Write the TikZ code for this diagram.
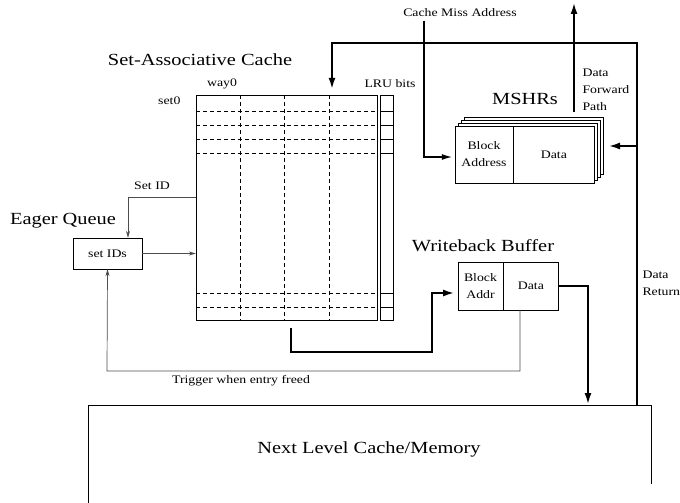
\documentclass[tikz,border=0pt]{standalone}
\usepackage{fontspec}
\setmainfont{Liberation Serif}[FakeStretch=1.2]
\usetikzlibrary{arrows.meta,positioning,calc}
\tikzset{
  cellbox/.style={draw,fill=white,inner sep=0pt,align=center,
    font=\fontsize{11.5}{17}\selectfont},
  titlelabel/.style={font=\fontsize{17}{19}\selectfont},
  smalllabel/.style={font=\fontsize{11.5}{17}\selectfont},
  thickarrow/.style={-{Latex[length=12pt,width=7pt]},line width=2.4pt},
  missarrow/.style={-{Latex[length=11pt,width=6pt]},line width=1.8pt},
  thinarrow/.style={-{Stealth[length=7pt,width=4pt]},black!70,line width=0.7pt},
  gridline/.style={dash pattern=on 4pt off 3pt,line width=0.6pt}
}
\begin{document}
\begin{tikzpicture}[x=1pt,y=-1pt]
  \useasboundingbox (0,0) rectangle (680,503);
  % cache array with LRU bits
  \node[draw,minimum width=181pt,minimum height=225pt,inner sep=0pt] (cache) at (286.5,207.5) {};
  \node[draw,minimum width=13pt,minimum height=225pt,inner sep=0pt] (lru) at (386.5,207.5) {};
  \foreach \cx in {240,284.5,329} \draw[gridline] (\cx,95) -- (\cx,320);
  \foreach \ry in {111.5,125.5,139.5,153.5,293.5,307} {
    \draw[gridline] (196,\ry) -- (377,\ry);
    \draw (380,\ry) -- (393,\ry);
  }
  \node[titlelabel] (cachetitle) at (200,60) {Set-Associative Cache};
  \node[smalllabel] (waylabel) at (222,84) {way0};
  \node[smalllabel,anchor=east] (setlabel) at (184,101) {set0};
  \node[smalllabel] (lrulabel) at (390,84) {LRU bits};
  % eager queue
  \node[titlelabel] (eagertitle) at (63,221) {Eager Queue};
  \node[cellbox,minimum width=69pt,minimum height=31pt] (eager) at (107.5,253.5) {set IDs};
  \draw[thinarrow] (eager.east) -- (eager.east -| cache.west);
  \coordinate (setidbend) at (128,197);
  \draw[thinarrow] (setidbend -| cache.west) -- (setidbend) -- (setidbend |- eager.north);
  \node[smalllabel] (setidlabel) at (152,186) {Set ID};
  % MSHRs
  \foreach \k in {3,2,1}
    \draw[fill=white] ($(455,126)+(3.2*\k,-3.1*\k)$) rectangle ++(139,57.5);
  \node[cellbox,minimum width=58pt,minimum height=57.5pt] (mshraddr) at (484,154.5) {Block\\Address};
  \node[cellbox,minimum width=81pt,minimum height=57.5pt,right=0pt of mshraddr] (mshrdata) {Data};
  \node[titlelabel] (mshrtitle) at (525,99) {MSHRs};
  % writeback buffer
  \node[cellbox,minimum width=45pt,minimum height=48pt] (wbaddr) at (480.5,286) {Block\\Addr};
  \node[cellbox,minimum width=55pt,minimum height=48pt,right=0pt of wbaddr] (wbdata) {Data};
  \node[titlelabel] (wbtitle) at (483,246) {Writeback Buffer};
  % next level
  \coordinate (memtl) at (88,405);
  \coordinate (memtr) at (651,405);
  \draw (88,503) -- (memtl) -- (memtr) -- (651,484);
  \node[titlelabel] (memlabel) at (369,449) {Next Level Cache/Memory};
  % data paths
  \coordinate (wbdrop) at (588,286);
  \draw[thickarrow] (wbdata.east |- wbdrop) -- (wbdrop) -- (wbdrop |- memtl);
  \coordinate (retup) at (637,43);
  \coordinate (cachein) at (332,43);
  \draw[thickarrow,shorten >=5pt] (retup |- memtl) -- (retup) -- (cachein) -- (cachein |- cache.north);
  \coordinate (mshrin) at (608,146);
  \draw[thickarrow] (retup |- mshrin) -- (mshrin);
  \node[smalllabel,align=left,anchor=west] (retlabel) at (639,283) {Data\\Return};
  \node[smalllabel] (misslabel) at (460,13) {Cache Miss Address};
  \coordinate (missbend) at (424,157);
  \draw[missarrow,shorten >=2pt] (misslabel.south -| missbend) -- (missbend) -- (missbend -| mshraddr.west);
  \coordinate (fwdbase) at (574,112);
  \coordinate (fwdtop) at (574,2);
  \draw[thickarrow] (fwdbase) -- (fwdtop);
  \node[smalllabel,align=left,anchor=west] (fwdlabel) at (579,90) {Data\\Forward\\Path};
  \coordinate (cacheout) at (291,328);
  \coordinate (wbbend) at (432,352);
  \coordinate (wbin) at (455,293);
  \draw[thickarrow] (cacheout) -- (cacheout |- wbbend) -- (wbbend) -- (wbbend |- wbin) -- (wbin);
  % trigger back to the queue
  \coordinate (trigstart) at (520,310);
  \coordinate (trigbend) at (107,371);
  \draw[thinarrow] (trigstart) -- (trigstart |- trigbend) -- (trigbend) -- (eager.south);
  \node[smalllabel] (triglabel) at (241,381) {Trigger when entry freed};
\end{tikzpicture}
\end{document}
